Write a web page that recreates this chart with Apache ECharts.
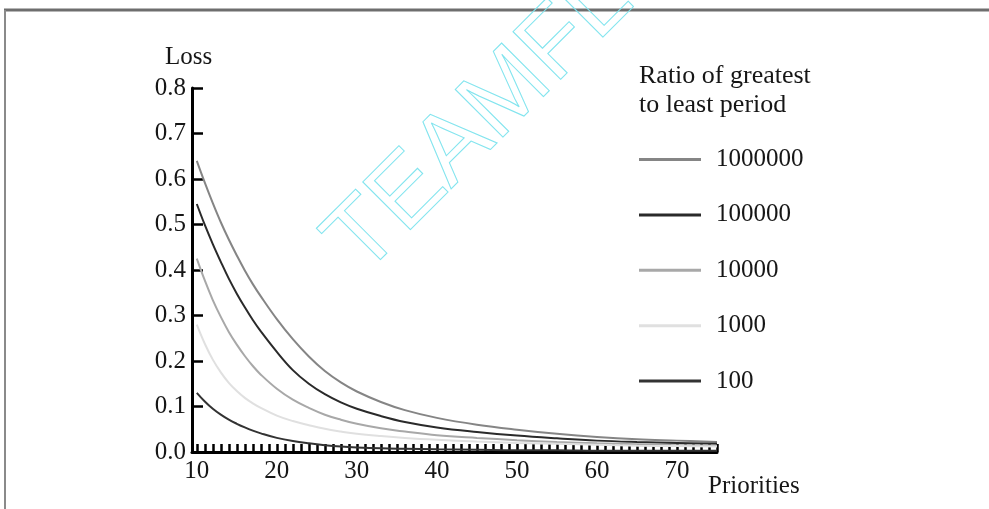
<!DOCTYPE html>
<html>
<head>
<meta charset="utf-8">
<script src="https://cdn.jsdelivr.net/npm/echarts@6/dist/echarts.min.js"></script>
<style>
html,body{margin:0;padding:0;background:#fff;}
#chart{width:989px;height:509px;}
</style>
</head>
<body>
<div id="chart"></div>
<script>
const priorities = [10,11,12,13,14,15,16,17,18,20,22,24,26,28,30,33,36,40,45,50,55,60,65,70,75];
const ratio1000000 = [0.64,0.592,0.547,0.505,0.467,0.432,0.399,0.369,0.342,0.292,0.248,0.21,0.178,0.153,0.133,0.11,0.092,0.075,0.06,0.049,0.04,0.033,0.028,0.025,0.022];
const ratio100000 = [0.545,0.499,0.457,0.418,0.381,0.348,0.318,0.29,0.265,0.22,0.18,0.15,0.127,0.109,0.095,0.079,0.066,0.054,0.044,0.036,0.03,0.025,0.022,0.02,0.018];
const ratio10000 = [0.425,0.377,0.334,0.297,0.264,0.236,0.211,0.189,0.17,0.139,0.115,0.097,0.082,0.071,0.062,0.052,0.045,0.037,0.031,0.026,0.022,0.019,0.017,0.015,0.014];
const ratio1000 = [0.28,0.238,0.203,0.175,0.152,0.134,0.119,0.107,0.097,0.08,0.068,0.059,0.051,0.045,0.04,0.035,0.031,0.027,0.023,0.02,0.018,0.016,0.014,0.013,0.012];
const ratio100 = [0.13,0.111,0.095,0.082,0.071,0.062,0.054,0.047,0.041,0.031,0.024,0.019,0.015,0.012,0.01,0.008,0.007,0.006,0.005,0.004,0.004,0.003,0.003,0.003,0.003];

const seriesNames = ['1000000','100000','10000','1000','100'];
const seriesColors = ['#858585','#2a2a2a','#a8a8a8','#e0e0e0','#333333'];
const seriesValues = [ratio1000000, ratio100000, ratio10000, ratio1000, ratio100];

const xLabelValues = [10,20,30,40,50,60,70];
const xTickValues = [];
for (let v = 10; v <= 75; v++) xTickValues.push(v);

const FONT = '"Liberation Serif", serif';
const TXT = '#161616';
const chart = echarts.init(document.getElementById('chart'));

chart.setOption({
  animation: false,
  backgroundColor: '#fff',
  title: [
    { text: 'Loss', left: 160, top: 40, textStyle: { fontFamily: FONT, fontSize: 25, fontWeight: 'normal', color: TXT } },
    { text: 'Priorities', left: 703, top: 469, textStyle: { fontFamily: FONT, fontSize: 25, fontWeight: 'normal', color: TXT } },
    { text: 'Ratio of greatest\nto least period', left: 634, top: 57, textStyle: { fontFamily: FONT, fontSize: 26, lineHeight: 29, fontWeight: 'normal', color: TXT } }
  ],
  legend: {
    orient: 'vertical',
    left: 639,
    top: 147,
    padding: 0,
    itemWidth: 62,
    itemHeight: 3,
    itemGap: 30.4,
    icon: 'rect',
    textStyle: { fontFamily: FONT, fontSize: 25, lineHeight: 24, color: TXT, padding: [0,0,0,10] },
    data: seriesNames
  },
  grid: { left: 192, right: 272, top: 88, bottom: 57, containLabel: false },
  xAxis: {
    type: 'value',
    min: 9.4,
    max: 75,
    splitLine: { show: false },
    axisLine: { lineStyle: { color: '#000', width: 3 } },
    axisTick: { inside: true, length: 8, lineStyle: { color: '#000', width: 2.5 }, customValues: xTickValues },
    axisLabel: { customValues: xLabelValues, margin: 7, fontFamily: FONT, fontSize: 25, color: TXT }
  },
  yAxis: {
    type: 'value',
    min: 0,
    max: 0.8,
    interval: 0.1,
    splitLine: { show: false },
    axisLine: { show: true, lineStyle: { color: '#000', width: 3 } },
    axisTick: { show: true, inside: true, length: 11, lineStyle: { color: '#000', width: 2.5 } },
    axisLabel: { margin: 6, fontFamily: FONT, fontSize: 25, color: TXT, formatter: v => v.toFixed(1) }
  },
  series: seriesNames.map((name, i) => ({
    name: name,
    type: 'line',
    smooth: 0.4,
    symbol: 'none',
    data: priorities.map((p, j) => [p, seriesValues[i][j]]),
    lineStyle: { color: seriesColors[i], width: 2 },
    itemStyle: { color: seriesColors[i] },
    z: 3
  })),
  graphic: [
    { type: 'line', shape: { x1: 4, y1: 10, x2: 989, y2: 10 }, style: { stroke: '#6e6e6e', lineWidth: 3 }, z: 10 },
    { type: 'line', shape: { x1: 5, y1: 10, x2: 5, y2: 509 }, style: { stroke: '#8a8a8a', lineWidth: 2 }, z: 10 },
    { type: 'text', x: 378, y: 293, rotation: Math.PI / 4, z: 20,
      style: { text: 'TEAMFLY', font: '98px "Liberation Sans", sans-serif', fill: 'rgba(0,0,0,0)', stroke: '#80e4ee', lineWidth: 1, verticalAlign: 'bottom', align: 'left' } }
  ]
});
</script>
</body>
</html>
